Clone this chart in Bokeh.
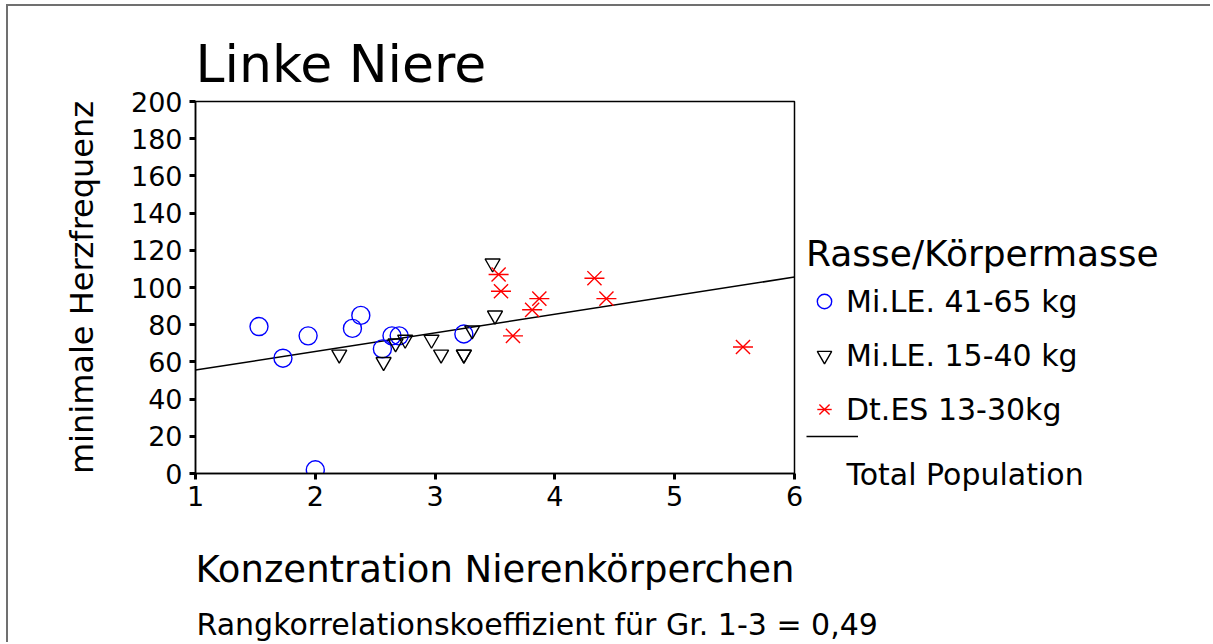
import numpy as np
from bokeh.plotting import figure
from bokeh.layouts import row, column
from bokeh.models import Range1d, Legend, LegendItem, Label, FixedTicker
from bokeh.embed import file_html
from bokeh.resources import INLINE

# ---- data ----
circle_x = [1.53, 1.73, 1.94, 2.00, 2.31, 2.38, 2.56, 2.64, 2.70, 3.24]
circle_y = [79, 62, 74, 2, 78, 85, 67, 74, 74, 75]

tri_x = [2.20, 2.57, 2.67, 2.75, 2.97, 3.05, 3.24, 3.24, 3.31, 3.48, 3.50]
tri_y = [64, 60, 70, 72, 72, 64, 64, 64, 77, 113, 85]

star_x = [3.53, 3.55, 3.65, 3.81, 3.87, 4.33, 4.43, 5.57]
star_y = [107, 98, 74, 88, 94, 105, 94, 68]

fit_slope = 10.0
fit_intercept = 45.6
fit_x = [1, 6]

x_ticks = [1, 2, 3, 4, 5, 6]
y_ticks = [0, 20, 40, 60, 80, 100, 120, 140, 160, 180, 200]

series_labels = ["Mi.LE. 41-65 kg", "Mi.LE. 15-40 kg", "Dt.ES 13-30kg"]
FONT = "DejaVu Sans"

CIRCLE = dict(marker="circle", size=18, fill_color=None, line_color="#0000ff", line_width=1.4)
TRI = dict(marker="inverted_triangle", size=15, fill_color=None, line_color="black", line_width=1.4)
STAR_X = dict(marker="x", size=20, line_color="#ff0000", line_width=1.4)
STAR_D = dict(marker="dash", size=20, line_color="#ff0000", line_width=1.4)
LINE = dict(line_color="black", line_width=1.5)

fit_y = [fit_intercept + fit_slope * x for x in fit_x]

# ---- main plot (page x 8..806, y 6..600) ----
p = figure(width=798, height=594, x_range=Range1d(1, 6), y_range=Range1d(0, 200),
           output_backend="svg", toolbar_location=None,
           min_border_left=187, min_border_right=12, min_border_top=95, min_border_bottom=127)
p.title.text = "Linke Niere"
p.title.align = "left"
p.title.text_font = FONT
p.title.text_font_size = "52px"
p.title.text_font_style = "normal"
p.title.text_color = "black"
p.title.standoff = 16
p.grid.visible = False
p.outline_line_color = "black"
p.outline_line_width = 1.5

for ax in (p.xaxis[0], p.yaxis[0]):
    ax.axis_line_color = "black"
    ax.axis_line_width = 1.5
    ax.major_tick_in = 0
    ax.major_tick_out = 6
    ax.major_tick_line_width = 3
    ax.major_tick_line_color = "black"
    ax.minor_tick_line_color = None
    ax.major_label_text_font = FONT
    ax.major_label_text_font_size = "27px"
    ax.major_label_text_color = "black"
    ax.axis_label_text_font = FONT
    ax.axis_label_text_font_style = "normal"
    ax.axis_label_text_color = "black"

p.xaxis.ticker = FixedTicker(ticks=x_ticks)
p.yaxis.ticker = FixedTicker(ticks=y_ticks)
p.xaxis.major_label_standoff = 6
p.yaxis.major_label_standoff = 7
p.xaxis.axis_label = "Konzentration Nierenkörperchen"
p.xaxis.axis_label_text_font_size = "37px"
p.xaxis.axis_label_standoff = 39
p.yaxis.axis_label = "minimale Herzfrequenz"
p.yaxis.axis_label_text_font_size = "32px"
p.yaxis.axis_label_standoff = 27

p.line(fit_x, fit_y, **LINE)
p.scatter(circle_x, circle_y, **CIRCLE)
p.scatter(tri_x, tri_y, **TRI)
p.scatter(star_x, star_y, **STAR_D)
p.scatter(star_x, star_y, **STAR_X)

# ---- legend panel (page x 806..1210, y 6..600; data units = page pixels) ----
LW = 404
lf = figure(width=LW, height=594, x_range=Range1d(806, 806 + LW), y_range=Range1d(600, 6),
            output_backend="svg", toolbar_location=None, x_axis_type=None, y_axis_type=None,
            min_border=0, min_border_left=0, min_border_right=0, min_border_top=0,
            min_border_bottom=0)
lf.frame_align = False
lf.title.visible = False
lf.grid.visible = False
lf.outline_line_color = None

# legend proxies (same data; they fall outside this panel's ranges)
g1 = lf.scatter(circle_x, circle_y, **CIRCLE)
g2 = lf.scatter(tri_x, tri_y, **TRI)
g3a = lf.scatter(star_x, star_y, **STAR_D)
g3b = lf.scatter(star_x, star_y, **STAR_X)
gl = lf.line(fit_x, fit_y, **LINE)

leg = Legend(items=[LegendItem(label=series_labels[0], renderers=[g1]),
                    LegendItem(label=series_labels[1], renderers=[g2]),
                    LegendItem(label=series_labels[2], renderers=[g3a, g3b])],
             title="Rasse/Körpermasse", location=(0, 164), orientation="vertical",
             padding=0, margin=0, spacing=0, glyph_width=36, glyph_height=54,
             label_height=54, label_standoff=4, title_standoff=0,
             background_fill_alpha=0, border_line_color=None,
             label_text_font=FONT, label_text_font_size="30px", label_text_color="black",
             title_text_font=FONT, title_text_font_size="36px", title_text_color="black",
             title_text_font_style="normal")
lf.add_layout(leg, "center")

leg2 = Legend(items=[LegendItem(label=" ", renderers=[gl])], location=(0, 154),
              padding=0, margin=0, spacing=0, glyph_width=52, glyph_height=20,
              label_height=20, label_standoff=0, background_fill_alpha=0,
              border_line_color=None, label_text_font_size="10px")
lf.add_layout(leg2, "center")

lf.add_layout(Label(x=846, y=474, text="Total Population", text_font=FONT,
                    text_font_size="30px", text_color="black", text_baseline="alphabetic"))

# ---- bottom strip (page x 8..1210, y 600..642) ----
bf = figure(width=802 + 400, height=42, x_range=Range1d(8, 1210), y_range=Range1d(642, 600),
            output_backend="svg", toolbar_location=None, x_axis_type=None, y_axis_type=None,
            min_border=0, min_border_left=0, min_border_right=0, min_border_top=0,
            min_border_bottom=0)
bf.frame_align = False
bf.title.visible = False
bf.grid.visible = False
bf.outline_line_color = None
bf.add_layout(Label(x=196, y=624, text="Rangkorrelationskoeffizient für Gr. 1-3 = 0,49",
                    text_font=FONT, text_font_size="30px", text_color="black",
                    text_baseline="alphabetic"))

layout = column(row(p, lf), bf)
layout.styles = {"margin-left": "6px", "margin-top": "4px",
                 "border-top": "2px solid #707070", "border-left": "2px solid #707070"}

open("out.html", "w").write(file_html(layout, INLINE))
